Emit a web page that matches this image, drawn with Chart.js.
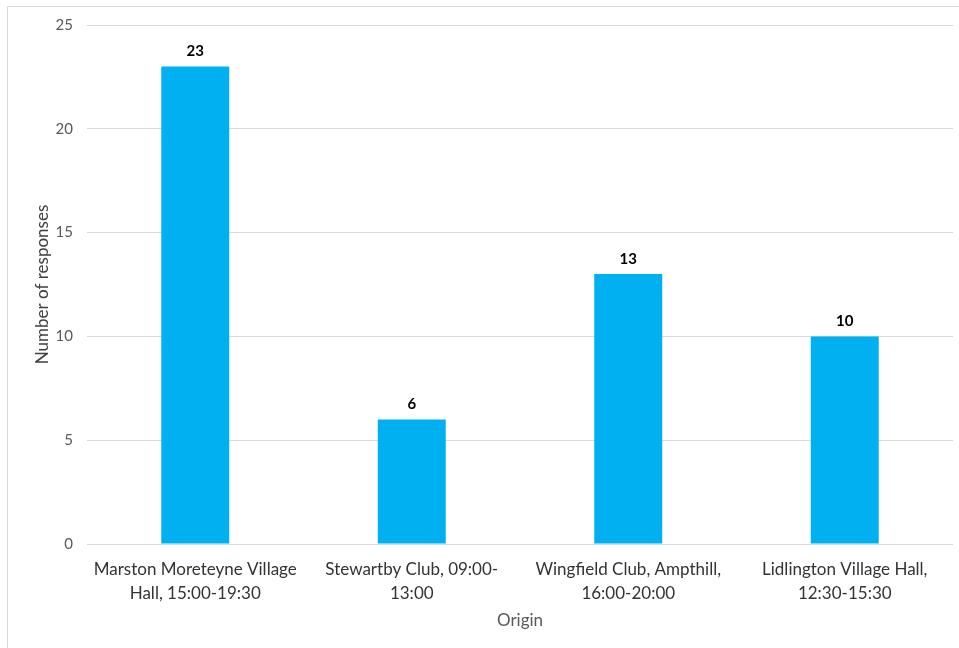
<!DOCTYPE html>
<html>
<head>
<meta charset="utf-8">
<script src="https://cdn.jsdelivr.net/npm/chart.js@4.4.1/dist/chart.umd.min.js"></script>
<style>
  html, body { margin: 0; padding: 0; background: #ffffff; }
  #wrap { position: relative; width: 959px; height: 648px; }
</style>
</head>
<body>
<div id="wrap"><canvas id="chart" width="959" height="648"></canvas></div>
<script>
// Response counts by consultation venue
const categories = [
  ["Marston Moreteyne Village", "Hall, 15:00-19:30"],
  ["Stewartby Club, 09:00-", "13:00"],
  ["Wingfield Club, Ampthill,", "16:00-20:00"],
  ["Lidlington Village Hall,", "12:30-15:30"]
];
const responses = [23, 6, 13, 10];
const yTicks = [0, 5, 10, 15, 20, 25];

const FONT = "Lato, 'Open Sans', sans-serif";

// Light frame around the whole chart
const framePlugin = {
  id: 'frame',
  beforeDraw(chart) {
    const ctx = chart.ctx;
    ctx.save();
    ctx.strokeStyle = '#d9d9d9';
    ctx.lineWidth = 1;
    ctx.strokeRect(7.5, 6.5, chart.width, chart.height);
    ctx.restore();
  }
};

// Bold value labels above each bar
const valueLabels = {
  id: 'valueLabels',
  afterDatasetsDraw(chart) {
    const ctx = chart.ctx;
    const meta = chart.getDatasetMeta(0);
    ctx.save();
    ctx.font = "bold 15px " + FONT;
    ctx.fillStyle = '#000000';
    ctx.textAlign = 'center';
    ctx.textBaseline = 'middle';
    meta.data.forEach((bar, i) => {
      ctx.fillText(String(chart.data.datasets[0].data[i]), bar.x, bar.y - 15);
    });
    ctx.restore();
  }
};

new Chart(document.getElementById('chart'), {
  type: 'bar',
  data: {
    labels: categories,
    datasets: [{
      data: responses,
      backgroundColor: '#00b0f0',
      borderWidth: 0,
      categoryPercentage: 1,
      barPercentage: 0.314
    }]
  },
  options: {
    responsive: false,
    animation: false,
    layout: { padding: { top: 25, right: 6, bottom: 0, left: 28 } },
    plugins: {
      legend: { display: false },
      tooltip: { enabled: false }
    },
    scales: {
      x: {
        grid: { display: false, drawTicks: false },
        border: { display: false },
        ticks: {
          padding: 13,
          color: '#333333',
          font: { family: FONT, size: 17, lineHeight: 1.42 },
          maxRotation: 0,
          autoSkip: false
        },
        title: {
          display: true,
          text: 'Origin',
          color: '#595959',
          font: { family: FONT, size: 17 },
          padding: { top: 0, bottom: 17 }
        },
        afterFit(scale) { scale.height = 104; }
      },
      y: {
        min: 0,
        max: 25,
        afterBuildTicks(scale) { scale.ticks = yTicks.map(v => ({ value: v })); },
        grid: { color: '#d9d9d9', lineWidth: 1, drawTicks: false },
        border: { display: false },
        ticks: {
          padding: 14,
          color: '#595959',
          font: { family: FONT, size: 15 }
        },
        title: {
          display: true,
          text: 'Number of responses',
          color: '#404040',
          font: { family: FONT, size: 17 },
          padding: { top: 4, bottom: 0 }
        },
        afterFit(scale) { scale.width = 59; }
      }
    }
  },
  plugins: [framePlugin, valueLabels]
});
</script>
</body>
</html>
